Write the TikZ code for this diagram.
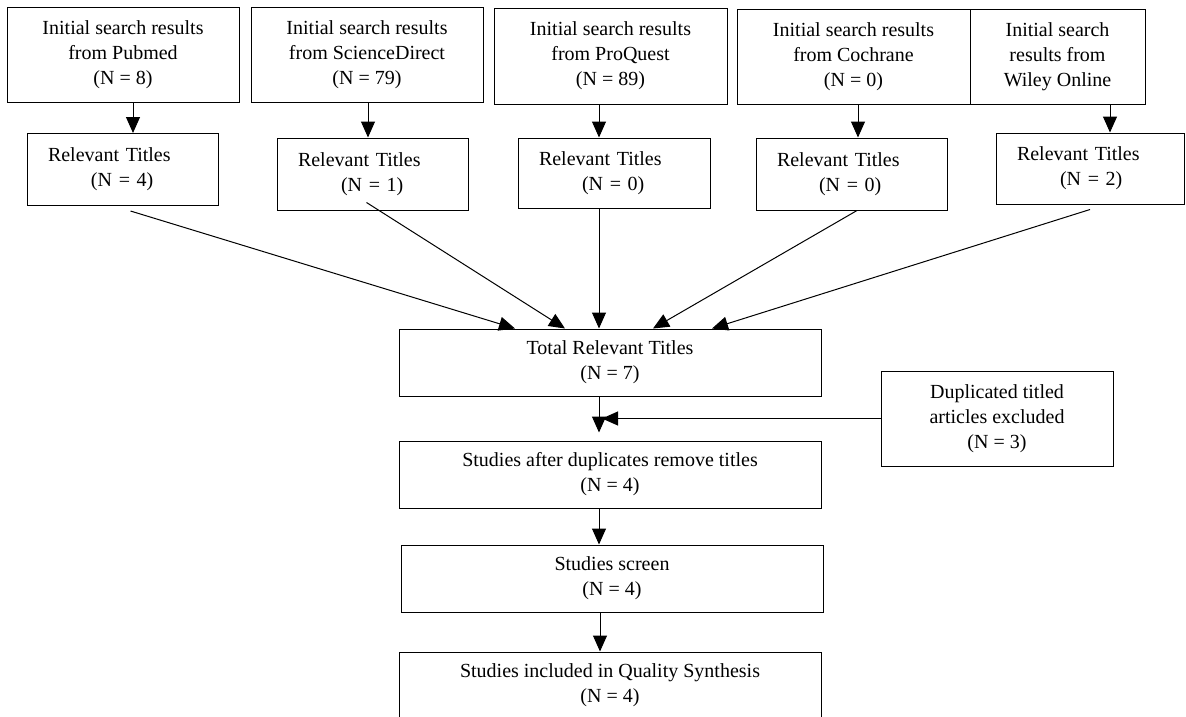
\documentclass[tikz,border=0pt]{standalone}
\usepackage{fontspec}
\setmainfont{Liberation Serif}
\usetikzlibrary{arrows.meta}
\begin{document}
\begin{tikzpicture}[x=1pt,y=-1pt,
  box/.style={draw, line width=1pt, inner sep=0pt, align=center, font=\fontsize{20}{25}\selectfont},
  rel/.style={box, align=left, inner xsep=21pt, minimum height=72pt},
  arr/.style={line width=1pt, -{Triangle[length=16pt,width=14pt]}}]
\clip (0,0) rectangle (1186,716);
% top row
\node[box, minimum width=232pt, minimum height=95pt] (p1) at (123,54.5) {Initial search results\\from Pubmed\\(N = 8)};
\node[box, minimum width=232pt, minimum height=95pt] (p2) at (367,54.5) {Initial search results\\from ScienceDirect\\(N = 79)};
\node[box, minimum width=233pt, minimum height=96pt] (p3) at (610.5,56) {Initial search results\\from ProQuest\\(N = 89)};
\node[box, minimum width=233pt, minimum height=95pt] (p4) at (853.5,56.5) {Initial search results\\from Cochrane\\(N = 0)};
\node[box, minimum width=175pt, minimum height=95pt] (p5) at (1057.5,56.5) {Initial search\\results from\\Wiley Online};
% relevant titles
\node[rel, text width=149pt] (r1) at (122.5,169.5) {Relevant Titles\\\hspace*{43pt}(N = 4)};
\node[rel, text width=149pt] (r2) at (372.5,174) {Relevant Titles\\\hspace*{43pt}(N = 1)};
\node[rel, text width=150pt, minimum height=70pt] (r3) at (614,173) {Relevant Titles\\\hspace*{43pt}(N = 0)};
\node[rel, text width=149pt] (r4) at (851.5,174) {Relevant Titles\\\hspace*{42pt}(N = 0)};
\node[rel, text width=146pt, minimum height=71pt] (r5) at (1090,168.5) {Relevant Titles\\\hspace*{43pt}(N = 2)};
% lower chain
\node[box, minimum width=422pt, minimum height=67pt] (t) at (610,362.5) {Total Relevant Titles\\(N = 7)};
\node[box, minimum width=232pt, minimum height=95pt] (d) at (997,418.5) {Duplicated titled\\articles excluded\\(N = 3)};
\node[box, minimum width=422pt, minimum height=67pt] (s1) at (610,474.5) {Studies after duplicates remove titles\\(N = 4)};
\node[box, minimum width=422pt, minimum height=67pt] (s2) at (612,578.5) {Studies screen\\(N = 4)};
\node[box, minimum width=422pt, minimum height=67pt] (s3) at (610,685.5) {Studies included in Quality Synthesis\\(N = 4)};
% arrows top to relevant
\draw[arr] ([xshift=10pt]p1.south) -- ([xshift=10pt]p1.south |- r1.north);
\draw[arr] ([xshift=1pt]p2.south) -- ([xshift=1pt]p2.south |- r2.north);
\draw[arr] ([xshift=-11.5pt]p3.south) -- ([xshift=-11.5pt]p3.south |- r3.north);
\draw[arr] ([xshift=4.5pt]p4.south) -- ([xshift=4.5pt]p4.south |- r4.north);
\draw[arr] ([xshift=52.5pt]p5.south) -- ([xshift=52.5pt]p5.south |- r5.north);
% relevant to total
\draw[arr] ([xshift=8pt,yshift=-5pt]r1.south) -- ([xshift=-95pt]t.north);
\draw[arr] ([xshift=-6pt,yshift=8pt]r2.south) -- ([xshift=-45pt]t.north);
\draw[arr] ([xshift=-15pt]r3.south) -- ([xshift=-15pt]r3.south |- t.north);
\draw[arr] ([xshift=5.5pt]r4.south) -- ([xshift=43pt]t.north);
\draw[arr] ([yshift=-5pt]r5.south) -- ([xshift=102pt]t.north);
% chain
\draw[arr, shorten >=8pt] ([xshift=-11pt]t.south) -- ([xshift=-11pt]s1.north);
\draw[arr] (d.west) -- ([xshift=-8pt]t.south |- d.west);
\draw[arr] ([xshift=-11pt]s1.south) -- ([xshift=-11pt]s1.south |- s2.north);
\draw[arr] ([xshift=-12pt]s2.south) -- ([xshift=-12pt]s2.south |- s3.north);
\end{tikzpicture}
\end{document}
